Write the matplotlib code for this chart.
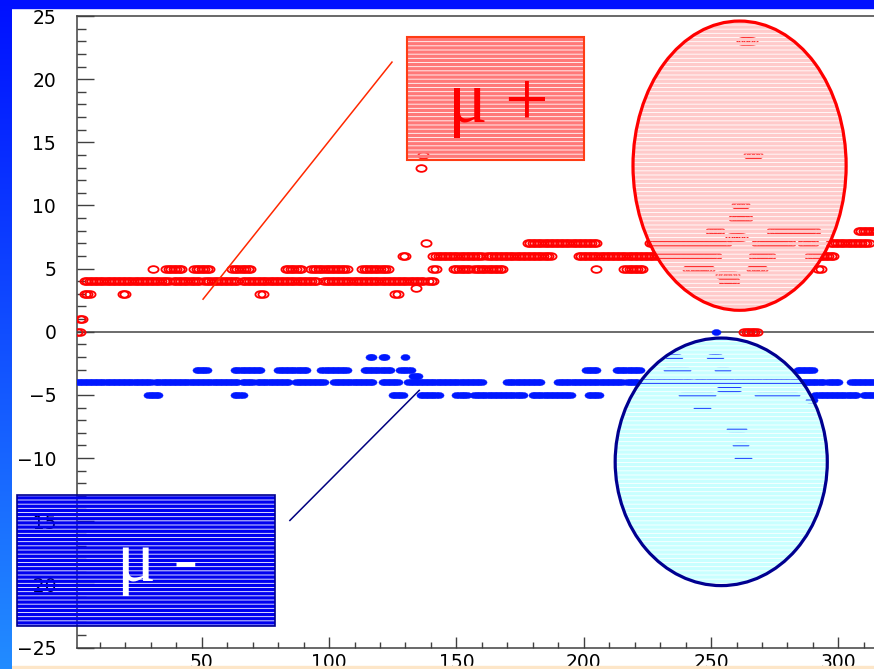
import numpy as np
import matplotlib.pyplot as plt
from matplotlib.patches import Rectangle, Ellipse
from matplotlib.path import Path
from matplotlib.transforms import Affine2D

plt.rcParams['hatch.linewidth'] = 2.4
plt.rcParams['font.family'] = 'DejaVu Sans'

# runs of events: (value, first event, last event)
mu_plus_runs = [
    (0, 1, 2), (1, 2, 3),
    (3, 4, 6), (3, 19, 20), (3, 73, 74), (3, 126, 127), (3.5, 134, 134),
    (4, 4, 37), (4, 39, 49), (4, 51, 64), (4, 66, 95), (4, 98, 137), (4, 139, 141),
    (4, 255, 259), (4.5, 254, 259),
    (5, 31, 31), (5, 36, 42), (5, 47, 53), (5, 62, 69), (5, 83, 89), (5, 93, 107),
    (5, 113, 123), (5, 141, 142), (5, 149, 155), (5, 157, 168), (5, 205, 205),
    (5, 216, 223), (5, 241, 249), (5, 266, 270), (5, 292, 293),
    (6, 129, 130), (6, 141, 160), (6, 162, 187), (6, 198, 252), (6, 267, 273),
    (6, 289, 298),
    (7, 138, 138), (7, 178, 205), (7, 226, 256), (7, 268, 281), (7, 286, 290),
    (7, 297, 312), (7.5, 258, 262),
    (8, 250, 253), (8, 274, 291), (8, 308, 320),
    (9, 259, 264), (10, 260, 263), (13, 136, 136), (14, 137, 137), (14, 265, 268),
    (23, 262, 266), (0, 263, 268),
]

mu_minus_runs = [
    (0, 252, 252),
    (-2, 116, 117), (-2, 121, 122), (-2, 130, 130), (-2, 234, 237), (-2, 250, 253),
    (-3, 48, 52), (-3, 63, 73), (-3, 80, 91), (-3, 97, 107), (-3, 114, 124),
    (-3, 128, 132), (-3, 201, 205), (-3, 213, 222), (-3, 233, 240), (-3, 253, 256),
    (-3, 284, 290), (-3.5, 133, 135),
    (-4, 1, 30), (-4, 32, 64), (-4, 66, 70), (-4, 72, 84), (-4, 87, 98),
    (-4, 102, 117), (-4, 121, 127), (-4, 131, 160), (-4, 170, 183), (-4, 190, 215),
    (-4, 217, 221), (-4, 223, 242), (-4, 244, 272), (-4, 273, 290), (-4, 291, 294),
    (-4, 296, 300), (-4, 305, 320),
    (-4.5, 254, 260),
    (-5, 29, 33), (-5, 63, 66), (-5, 125, 129), (-5, 136, 143), (-5, 150, 154),
    (-5, 157, 176), (-5, 180, 195), (-5, 202, 206), (-5, 239, 250), (-5, 269, 283),
    (-5, 291, 307), (-5, 310, 320), (-5.4, 289, 290),
    (-6, 245, 248), (-7.7, 258, 262), (-9, 260, 263), (-10, 261, 264),
]


def expand(runs):
    xs, ys = [], []
    for y, x0, x1 in runs:
        for x in range(x0, x1 + 1):
            xs.append(x)
            ys.append(y)
    return np.array(xs), np.array(ys)


xp, yp = expand(mu_plus_runs)
xm, ym = expand(mu_minus_runs)

W, H = 874, 669
fig = plt.figure(figsize=(W / 100, H / 100), dpi=100, facecolor='white')

# slide background: blue band on top, gradient strip on the left, peach line at bottom
fig.add_artist(Rectangle((0, (H - 8) / H), 1, 8 / H, transform=fig.transFigure,
                         color='#0010ff', zorder=20))
top = np.array([0, 16, 255]) / 255
bot = np.array([34, 140, 255]) / 255
grad = np.linspace(top, bot, H)[:, None, :] * np.ones((1, 12, 1))
fig.figimage(grad, xo=0, yo=0, origin='upper', zorder=21)
fig.add_artist(Rectangle((12 / W, 0), 1, 3 / H, transform=fig.transFigure,
                         color='#fde6c8', zorder=20))

ax = fig.add_axes([77 / W, 21.5 / H, 812.3 / W, 631.5 / H])
ax.set_facecolor('white')

oval = Path.unit_circle().transformed(Affine2D().scale(1, 0.66))
ax.plot(xp, yp, ls='none', marker=oval, ms=7.3, mfc='none', mec='#ff0000', mew=1.3, zorder=3)
ax.plot(xm, ym, ls='none', marker=oval, ms=6.6, mfc='#0018ff', mec='#0018ff', mew=0.3, zorder=3)

ax.axhline(0, color='#444444', lw=1.1, zorder=2)

ax.set_xlim(1, 320)
ax.set_ylim(-25, 25)
ax.set_xticks(np.arange(50, 301, 50))
ax.set_xticks(np.arange(10, 321, 10), minor=True)
ax.set_yticks(np.arange(-25, 26, 5))
ax.set_yticks(np.arange(-25, 26, 1), minor=True)
ax.tick_params(axis='y', which='major', direction='in', length=12.2, width=1, color='#404040',
               labelsize=13.5, pad=15)
ax.tick_params(axis='y', which='minor', direction='in', length=6.4, width=1, color='#404040')
ax.tick_params(axis='x', which='major', direction='in', length=8, width=1, color='#404040',
               labelsize=13.5, pad=4)
ax.tick_params(axis='x', which='minor', direction='in', length=4.3, width=1, color='#404040')
for s in ax.spines.values():
    s.set_color('#404040')
    s.set_linewidth(1.1)


def striped(patch_cls, args, stripe, edge, lw, **kw):
    # coloured stripes with see-through gaps, then the outline on top
    ax.add_patch(patch_cls(*args, **kw, facecolor='none', edgecolor=stripe, lw=0,
                           hatch='----', clip_on=False, zorder=6))
    ax.add_patch(patch_cls(*args, **kw, facecolor='none', edgecolor=edge, lw=lw,
                           clip_on=False, zorder=7))


striped(Rectangle, ((130.6, 13.6), 69.6, 9.75), '#ff7878', '#ff3c14', 1.5)
striped(Ellipse, ((261.2, 13.15), 83.7, 22.9), '#ffcaca', '#ff0000', 2.3)
striped(Ellipse, ((254.0, -10.3), 83.3, 19.6), '#c8ffff', '#000090', 2.3)
striped(Rectangle, ((-22.5, -23.26), 101.3, 10.3), '#0000f0', '#000090', 1.2)

ax.plot([50.5, 124.7], [2.58, 21.35], color='#ff2800', lw=1.1, zorder=5)
ax.plot([84.6, 135.4], [-14.94, -4.64], color='#000080', lw=1.1, zorder=5)

ax.text(146.7, 16.6, 'μ', color='#ff0000', fontsize=53, family='Liberation Serif',
        ha='left', va='baseline', zorder=8)
ax.text(177.2, 18.54, '+', color='#ff0000', fontsize=56, family='Liberation Serif',
        ha='center', va='center_baseline', zorder=8)
ax.text(16.8, -19.7, 'μ -', color='white', fontsize=52, family='Liberation Serif',
        ha='left', va='baseline', zorder=8, clip_on=False)

fig.savefig('out.png', dpi=100, facecolor='white')
